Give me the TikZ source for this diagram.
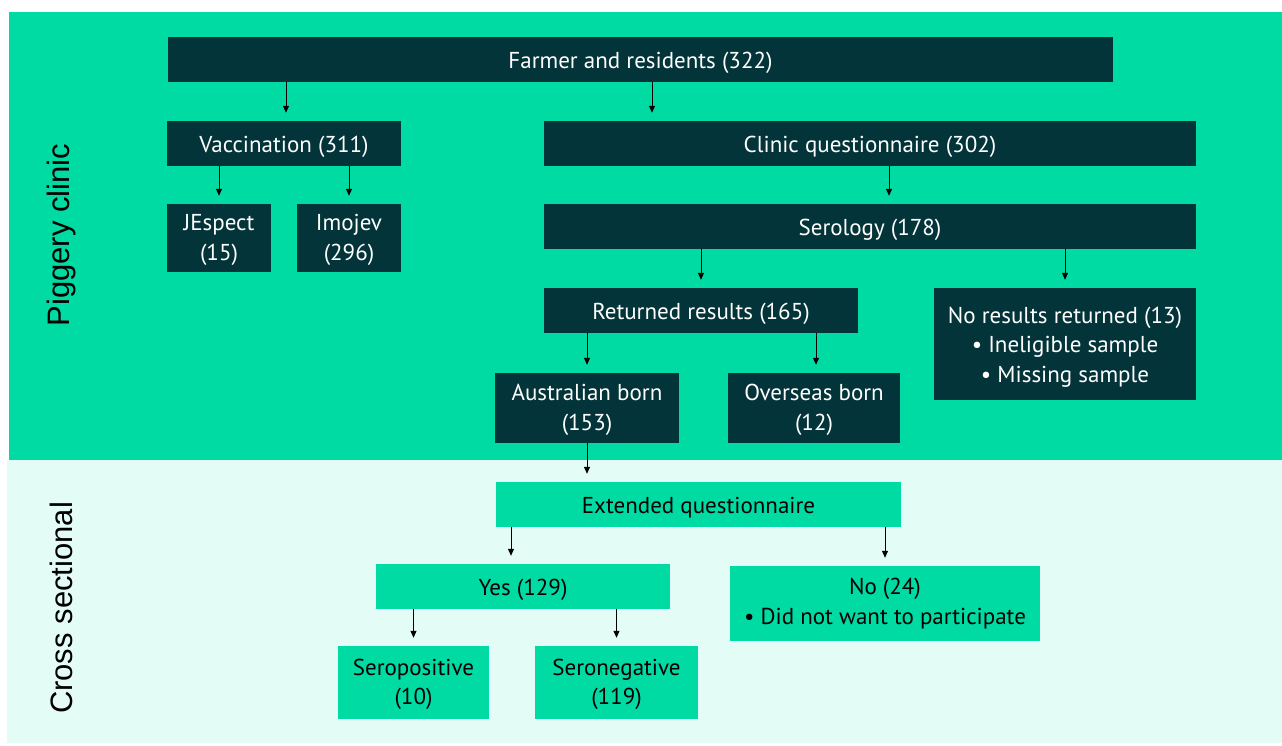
\documentclass[tikz,border=0pt]{standalone}
\usepackage{fontspec}
\setmainfont{PT Sans}
\newfontfamily\sidefont{Liberation Sans}
\usetikzlibrary{arrows.meta}
\definecolor{panelgreen}{RGB}{0,219,164}
\definecolor{paneldark}{RGB}{3,52,57}
\definecolor{panellight}{RGB}{227,252,245}
\newcommand{\dn}[1]{\raisebox{-3pt}[\height][\depth]{#1}}
\newcommand{\dm}[1]{\raisebox{-2pt}[\height][\depth]{#1}}
\tikzset{
  boxbase/.style={rectangle, inner sep=0pt, align=center,
    font=\fontsize{23}{29.5}\selectfont},
  dbox/.style={boxbase, fill=paneldark, text=white},
  gbox/.style={boxbase, fill=panelgreen, text=black},
  arr/.style={-{Triangle[width=6pt,length=7pt]}, line width=1pt, black},
  sidelabel/.style={rotate=90, font=\sidefont\fontsize{31}{36}\selectfont, text=black, inner sep=0pt}
}
\begin{document}
\begin{tikzpicture}[x=1pt,y=-1pt]
\useasboundingbox (0,0) rectangle (1282,745);
\fill[panelgreen] (9,12) rectangle (1282,460);
\fill[panellight] (7,460) rectangle (1282,743);

\node[sidelabel] (lblA) at (61,235) {Piggery clinic};
\node[sidelabel] (lblB) at (61,608) {Cross sectional};

\node[dbox, minimum width=945, minimum height=45] (farmer) at (640.5,59.5) {\dn{Farmer and residents (322)}};
\node[dbox, minimum width=234, minimum height=45] (vacc) at (284,143.5) {\dn{Vaccination (311)}};
\node[dbox, minimum width=652, minimum height=45] (clinic) at (870,143.5) {\dn{Clinic questionnaire (302)}};
\node[dbox, minimum width=104, minimum height=68] (jes) at (219,238) {\dm{JEspect}\\\dm{(15)}};
\node[dbox, minimum width=104, minimum height=68] (imo) at (349,238) {\dm{Imojev}\\\dm{(296)}};
\node[dbox, minimum width=652, minimum height=45] (sero) at (870,226.5) {\dn{Serology (178)}};
\node[dbox, minimum width=314, minimum height=45] (ret) at (701,310.5) {\dn{Returned results (165)}};
\node[dbox, minimum width=262, minimum height=112] (nores) at (1065,344) {\dn{No results returned (13)}\\\dn{\textbullet\ Ineligible sample}\\\dn{\textbullet\ Missing sample}};
\node[dbox, minimum width=184, minimum height=70] (aus) at (587,408) {\dm{Australian born}\\\dm{(153)}};
\node[dbox, minimum width=172, minimum height=70] (ovs) at (814,408) {\dm{Overseas born}\\\dm{(12)}};
\node[gbox, minimum width=405, minimum height=45] (ext) at (698.5,504.5) {\dn{Extended questionnaire}};
\node[gbox, minimum width=294, minimum height=45] (yes) at (523,586.5) {\dn{Yes (129)}};
\node[gbox, minimum width=310, minimum height=75] (no) at (885,603.5) {No (24)\\\textbullet\ Did not want to participate};
\node[gbox, minimum width=151, minimum height=73] (pos) at (413.5,682.5) {\dm{Seropositive}\\\dm{(10)}};
\node[gbox, minimum width=163, minimum height=73] (neg) at (616.5,682.5) {\dm{Seronegative}\\\dm{(119)}};

\coordinate (cA) at (286,0);
\coordinate (cB) at (652,0);
\coordinate (cC) at (889,0);
\coordinate (cD) at (816,0);
\coordinate (cE) at (511,0);
\draw[arr] (farmer.south -| cA) -- ([yshift=8pt]vacc.north -| cA);
\draw[arr] (farmer.south -| cB) -- ([yshift=8pt]clinic.north -| cB);
\draw[arr] (vacc.south -| jes) -- ([yshift=8pt]jes.north);
\draw[arr] (vacc.south -| imo) -- ([yshift=8pt]imo.north);
\draw[arr] (clinic.south -| cC) -- ([yshift=8pt]sero.north -| cC);
\draw[arr] (sero.south -| ret) -- ([yshift=8pt]ret.north);
\draw[arr] (sero.south -| nores) -- ([yshift=8pt]nores.north);
\draw[arr] (ret.south -| aus) -- ([yshift=8pt]aus.north);
\draw[arr] (ret.south -| cD) -- ([yshift=8pt]ovs.north -| cD);
\draw[arr] (aus.south) -- ([yshift=8pt]ext.north -| aus);
\draw[arr] (ext.south -| cE) -- ([yshift=8pt]yes.north -| cE);
\draw[arr] (ext.south -| no) -- ([yshift=8pt]no.north);
\draw[arr] (yes.south -| pos) -- ([yshift=8pt]pos.north);
\draw[arr] (yes.south -| neg) -- ([yshift=8pt]neg.north);
\end{tikzpicture}
\end{document}
